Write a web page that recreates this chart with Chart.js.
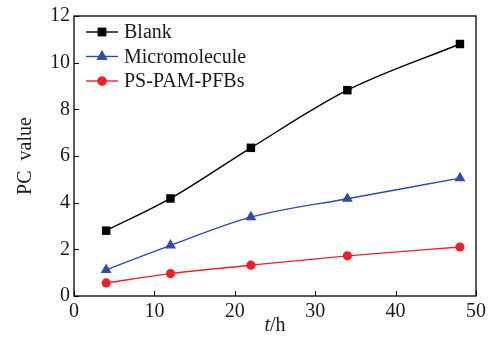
<!DOCTYPE html>
<html>
<head>
<meta charset="utf-8">
<script src="https://cdn.jsdelivr.net/npm/chart.js@4/dist/chart.umd.min.js"></script>
<style>
  html, body { margin: 0; padding: 0; background: #fff; }
  #wrap { width: 490px; height: 346px; }
</style>
</head>
<body>
<div id="wrap"><canvas id="pc-chart" width="490" height="346"></canvas></div>
<script>
const hours = [4, 12, 22, 34, 48];
const blank = [2.8, 4.18, 6.35, 8.82, 10.8];
const micromolecule = [1.12, 2.17, 3.38, 4.17, 5.05];
const psPamPfbs = [0.56, 0.96, 1.32, 1.72, 2.1];
const xTicks = [0, 10, 20, 30, 40, 50];
const yTicks = [0, 2, 4, 6, 8, 10, 12];

const FONT = "'Liberation Serif', 'DejaVu Serif', serif";
const FSIZE = 20;

function pts(ys) {
  return ys.map((y, i) => ({ x: hours[i], y }));
}

function series(label, ys, color, style, radius) {
  return {
    label,
    data: pts(ys),
    showLine: true,
    borderColor: color,
    backgroundColor: color,
    borderWidth: 1.4,
    pointStyle: style,
    pointRadius: radius,
    pointHoverRadius: radius,
    pointBorderWidth: 0,
    cubicInterpolationMode: "monotone",
    fill: false,
  };
}

// frame, inward ticks, legend, x title
const decor = {
  id: "decor",
  afterDraw(chart) {
    const { ctx, chartArea: a, scales } = chart;
    ctx.save();
    ctx.strokeStyle = "#000";
    ctx.lineWidth = 1.3;
    ctx.strokeRect(a.left, a.top, a.right - a.left, a.bottom - a.top);

    ctx.lineWidth = 1;
    ctx.beginPath();
    for (const v of xTicks) {
      const px = Math.round(scales.x.getPixelForValue(v)) + 0.5;
      ctx.moveTo(px, a.bottom);
      ctx.lineTo(px, a.bottom - 5);
    }
    for (const v of yTicks) {
      const py = Math.round(scales.y.getPixelForValue(v)) + 0.5;
      ctx.moveTo(a.left, py);
      ctx.lineTo(a.left + 5, py);
    }
    ctx.stroke();

    // legend
    ctx.font = FSIZE + "px " + FONT;
    ctx.textBaseline = "middle";
    ctx.textAlign = "left";
    chart.data.datasets.forEach((ds, i) => {
      const y = a.top + 16 + i * 24.5;
      ctx.strokeStyle = ds.borderColor;
      ctx.lineWidth = ds.borderWidth;
      ctx.beginPath();
      ctx.moveTo(a.left + 12, y);
      ctx.lineTo(a.left + 44, y);
      ctx.stroke();
      ctx.fillStyle = ds.backgroundColor;
      Chart.helpers.drawPoint(ctx, {
        pointStyle: ds.pointStyle,
        radius: ds.pointRadius,
        borderWidth: 0,
        rotation: 0,
      }, a.left + 28, y);
      ctx.fill();
      ctx.fillStyle = "#1a1a1a";
      ctx.fillText(ds.label, a.left + 50, y + 1);
    });

    // x title: italic t + /h
    const cx = (a.left + a.right) / 2;
    const ty = 326;
    ctx.fillStyle = "#1a1a1a";
    ctx.font = "italic " + FSIZE + "px " + FONT;
    const wt = ctx.measureText("t").width;
    ctx.font = FSIZE + "px " + FONT;
    const wh = ctx.measureText("/h").width;
    const x0 = cx - (wt + wh) / 2;
    ctx.font = "italic " + FSIZE + "px " + FONT;
    ctx.fillText("t", x0, ty);
    ctx.font = FSIZE + "px " + FONT;
    ctx.fillText("/h", x0 + wt, ty);
    ctx.restore();
  },
};

const ctx = document.getElementById("pc-chart").getContext("2d");

new Chart(ctx, {
  type: "scatter",
  data: {
    datasets: [
      series("Blank", blank, "#000000", "rect", 6),
      series("Micromolecule", micromolecule, "#2d4ea3", "triangle", 6.3),
      series("PS-PAM-PFBs", psPamPfbs, "#ec2229", "circle", 4.6),
    ],
  },
  options: {
    responsive: false,
    animation: false,
    devicePixelRatio: 1,
    layout: { padding: { top: 15, right: 13, left: 0, bottom: 0 } },
    plugins: {
      legend: { display: false },
      tooltip: { enabled: false },
    },
    scales: {
      x: {
        type: "linear",
        min: 0,
        max: 50,
        afterBuildTicks: (s) => { s.ticks = xTicks.map((v) => ({ value: v })); },
        afterFit: (s) => { s.height = 50; },
        grid: { display: false, drawTicks: false },
        border: { display: false },
        ticks: {
          padding: 4,
          color: "#1a1a1a",
          font: { family: FONT, size: FSIZE },
        },
      },
      y: {
        type: "linear",
        min: 0,
        max: 12,
        afterBuildTicks: (s) => { s.ticks = yTicks.map((v) => ({ value: v })); },
        afterFit: (s) => { s.width = 74; },
        grid: { display: false, drawTicks: false },
        border: { display: false },
        title: {
          display: true,
          text: "PC  value",
          color: "#1a1a1a",
          padding: { top: 14, bottom: 0 },
          font: { family: FONT, size: FSIZE },
        },
        ticks: {
          padding: 4,
          color: "#1a1a1a",
          font: { family: FONT, size: FSIZE },
        },
      },
    },
  },
  plugins: [decor],
});
</script>
</body>
</html>
